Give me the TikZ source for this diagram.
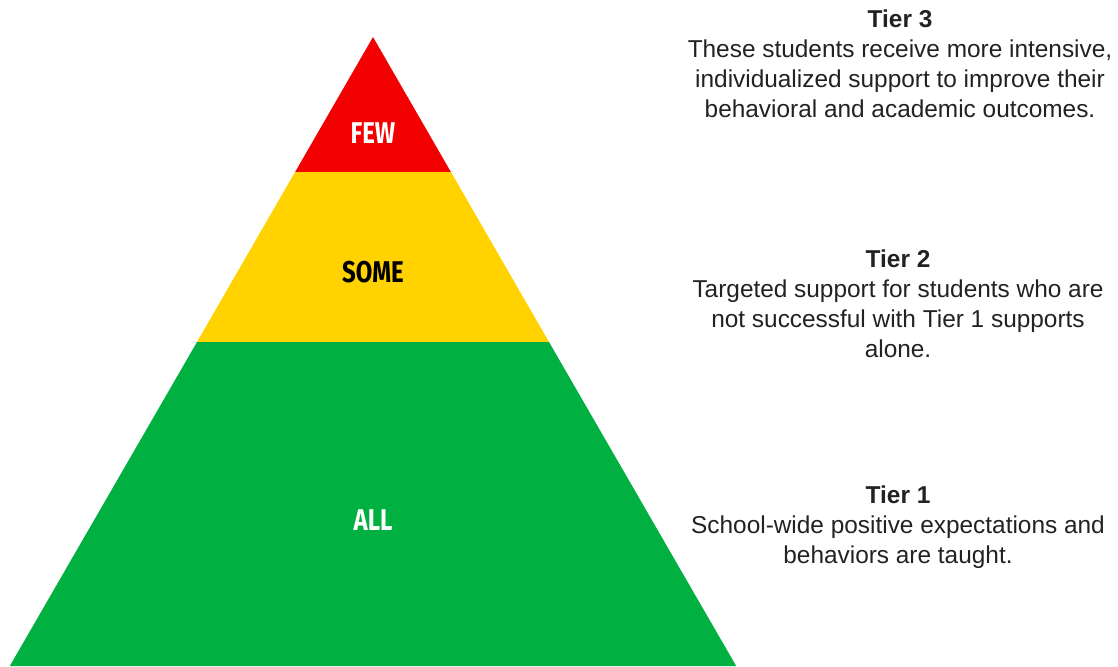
\documentclass[tikz,border=0pt]{standalone}
\usepackage{fontspec}
\setmainfont{Liberation Sans}
\newfontfamily\tierfont[FakeStretch=0.8]{Fira Sans}
\definecolor{fewred}{RGB}{243,0,0}
\definecolor{someyellow}{RGB}{255,210,0}
\definecolor{allgreen}{RGB}{0,177,66}
\definecolor{notegray}{RGB}{34,34,34}
\begin{document}
\begin{tikzpicture}[x=0.5pt,y=-0.5pt,
  level/.style={font=\tierfont\bfseries\fontsize{15}{15}\selectfont},
  note/.style={align=center,anchor=north,inner sep=0pt,text=notegray,font=\fontsize{12.2}{15}\selectfont}]
\useasboundingbox[fill=white] (0,0) rectangle (1118,666);
% pyramid corners
\coordinate (top) at (373,37);
\coordinate (rl) at (295.1,172);
\coordinate (rr) at (450.9,172);
\coordinate (yl) at (197,342);
\coordinate (yr) at (549,342);
\coordinate (gl) at (9.8,666);
\coordinate (gr) at (736.2,666);
\path[fill=fewred] (top) -- (rr) -- (rl) -- cycle;
\path[fill=someyellow] (rl) -- (rr) -- (yr) -- (yl) -- cycle;
\path[fill=allgreen] (yl) -- (yr) -- (gr) -- (gl) -- cycle;
\node[level,text=white] (few) at (373,133) {FEW};
\node[level,text=black] (some) at (373,272) {SOME};
\node[level,text=white] (all) at (373,520) {ALL};
% tier notes
\node[note] (tier3) at (900,9) {\textbf{Tier 3}\\These students receive more intensive,\\individualized support to improve their\\behavioral and academic outcomes.};
\node[note] (tier2) at (898,249) {\textbf{Tier 2}\\Targeted support for students who are\\not successful with Tier 1 supports\\alone.};
\node[note] (tier1) at (898,485) {\textbf{Tier 1}\\School-wide positive expectations and\\behaviors are taught.};
\end{tikzpicture}
\end{document}
